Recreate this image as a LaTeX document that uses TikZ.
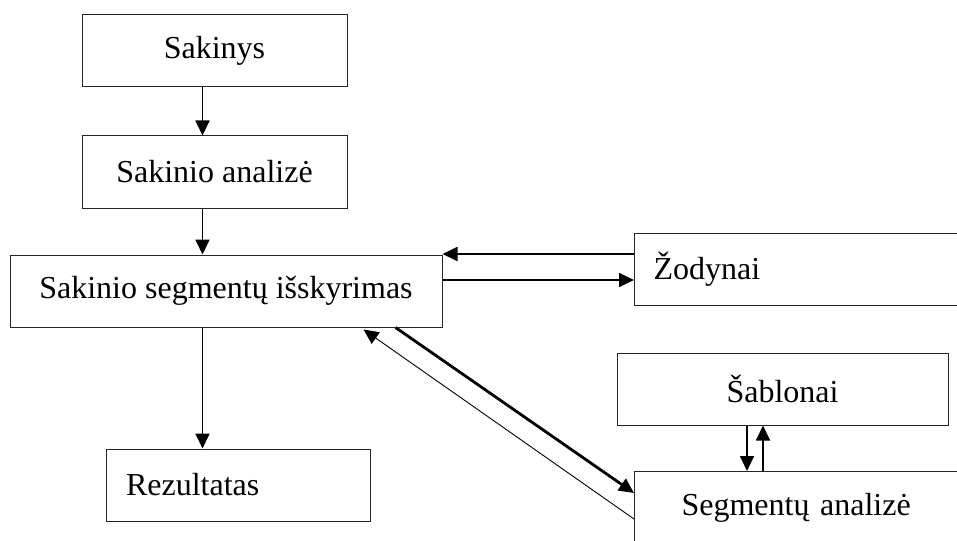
\documentclass[tikz,border=0pt]{standalone}
\usepackage{fontspec}
\setmainfont{Liberation Serif}
\usetikzlibrary{positioning,arrows.meta}

\begin{document}
\begin{tikzpicture}[
  x=1pt, y=-1pt,
  font=\fontsize{32}{38}\selectfont,
  >={Triangle[length=15pt,width=14pt]},
  node distance=48pt,
  blok/.style={draw=black!85, line width=1pt, fill=white,
               minimum height=72pt, inner sep=0pt},
  kairblok/.style={blok, align=left, inner xsep=20pt,
                   text width=300pt},
  arr/.style={->, line width=1.8pt},
  storarr/.style={->, line width=2.8pt},
  plonarr/.style={->, line width=0.9pt},
]
\useasboundingbox (0,0) rectangle (957,540);
\clip (0,0) rectangle (957,540);

% ---- left column ----
\node[blok, minimum width=265pt] (sakinys) at (214.5,51) {Sakinys};
\node[blok, minimum width=265pt, below=of sakinys] (analize) {Sakinio analizė};
\node[blok, minimum width=432pt] (isskyrimas) at (226,291)
  {Sakinio segmentų išskyrimas};
\node[kairblok, text width=224pt] (rezultatas) at (238,485) {Rezultatas};

% ---- right side (boxes run off the page) ----
\node[kairblok, inner xsep=19pt, text width=302pt, anchor=north west]
  (zodynai) at (634,233) {Žodynai};
\node[blok, minimum width=331pt] (sablonai) at (782.5,389) {Šablonai};
\node[kairblok, inner xsep=47pt, text width=246pt, anchor=north west]
  (segan) at (634,471) {Segmentų analizė};

% Arrows down the left column
\draw[arr] ([xshift=-12pt]sakinys.south) -- ([xshift=-12pt]analize.north);
\draw[arr] ([xshift=-12pt]analize.south) -- ([xshift=-23.5pt]isskyrimas.north);
\draw[arr] ([xshift=-23.5pt]isskyrimas.south) -- ([xshift=-35.5pt]rezultatas.north);

% Dictionaries
\draw[arr] ([yshift=-21pt]zodynai.north west)
  -- ([yshift=-21pt]zodynai.north west -| isskyrimas.east);
\draw[arr] ([yshift=-47pt]zodynai.north west -| isskyrimas.east)
  -- ([yshift=-47pt]zodynai.north west);

% Segment analysis
\draw[storarr] ([xshift=-47pt]isskyrimas.south east)
  -- ([yshift=-22pt]segan.north west);
\draw[plonarr] ([yshift=-48pt]segan.north west)
  -- ([xshift=-79pt,yshift=-2pt]isskyrimas.south east);

% Templates
\draw[arr] ([xshift=-35.5pt]sablonai.south) -- ([xshift=113pt]segan.north west);
\draw[arr] ([xshift=129pt]segan.north west) -- ([xshift=-19.5pt]sablonai.south);

\end{tikzpicture}
\end{document}
